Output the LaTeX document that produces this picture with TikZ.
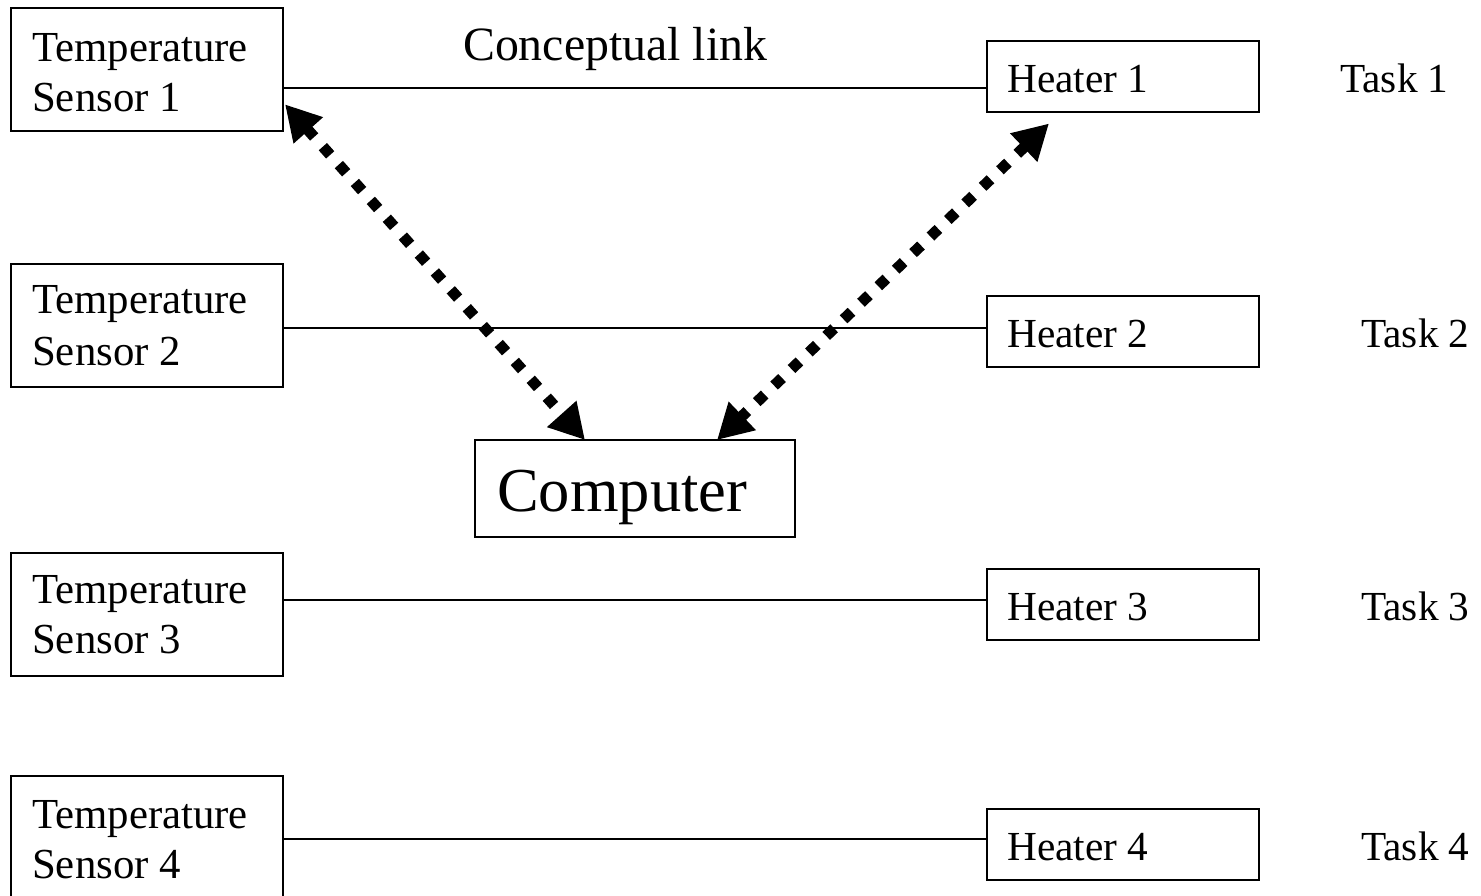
\documentclass[tikz,border=0pt]{standalone}
\usepackage{fontspec}
\setmainfont{Liberation Serif}
\usetikzlibrary{arrows.meta,calc}
\begin{document}
\begin{tikzpicture}[x=1pt,y=-1pt,
  box/.style={draw, line width=2pt, inner sep=0pt, outer sep=0pt, anchor=north west},
  sbox/.style={box, minimum width=272pt, minimum height=123pt},
  hbox/.style={box, minimum width=272pt, minimum height=71pt},
  txt/.style={anchor=base west, inner sep=0pt, font=\fontsize{42.8}{51}\selectfont},
  htxt/.style={anchor=base west, inner sep=0pt, font=\fontsize{41.3}{49}\selectfont},
  conn/.style={line width=2pt},
  darrow/.style={line width=11pt, dash pattern=on 11pt off 13pt,
    {Triangle[length=35pt,width=37pt]}-{Triangle[length=35pt,width=37pt]}}]
\useasboundingbox (0,0) rectangle (1481,895);
% sensor boxes
\node[sbox] (ts1) at (11,8.3) {};
\node[sbox] (ts2) at (11,263.5) {};
\node[sbox] (ts3) at (11,552.5) {};
\node[box, minimum width=272pt, minimum height=140pt] (ts4) at (11,775.7) {};
\node[txt] (ts1a) at (32,61) {Temperature};
\node[txt] (ts1b) at (32,111.7) {Sensor 1};
\node[txt] (ts2a) at (32,313.3) {Temperature};
\node[txt] (ts2b) at (32,365) {Sensor 2};
\node[txt] (ts3a) at (32,603.3) {Temperature};
\node[txt] (ts3b) at (32,653.3) {Sensor 3};
\node[txt] (ts4a) at (32,828.3) {Temperature};
\node[txt] (ts4b) at (32,878.3) {Sensor 4};
% heater boxes
\node[hbox] (h1) at (987,40.5) {};
\node[hbox] (h2) at (987,296) {};
\node[hbox] (h3) at (987,568.5) {};
\node[hbox] (h4) at (987,809) {};
\node[htxt] (h1t) at (1007,92.5) {Heater 1};
\node[htxt] (h2t) at (1007,347.5) {Heater 2};
\node[htxt] (h3t) at (1007,620.5) {Heater 3};
\node[htxt] (h4t) at (1007,860.5) {Heater 4};
% tasks
\node[htxt] (t1) at (1340,92.5) {Task 1};
\node[htxt] (t2) at (1361,347.5) {Task 2};
\node[htxt] (t3) at (1361,620.5) {Task 3};
\node[htxt] (t4) at (1361,860.5) {Task 4};
% computer
\node[box, minimum width=320pt, minimum height=97pt] (comp) at (475,440) {};
\node[anchor=base west, inner sep=0pt, font=\fontsize{62.5}{75}\selectfont] (compt) at (497,511.7) {Computer};
% conceptual link label
\node[anchor=base west, inner sep=0pt, font=\fontsize{47.8}{57}\selectfont] (cl) at (463,60) {Conceptual link};
% conceptual links
\coordinate (r1) at (0,88.3);
\coordinate (r2) at (0,327.7);
\coordinate (r3) at (0,600);
\coordinate (r4) at (0,839.3);
\draw[conn] (ts1.east |- r1) -- (h1.west |- r1);
\draw[conn] (ts2.east |- r2) -- (h2.west |- r2);
\draw[conn] (ts3.east |- r3) -- (h3.west |- r3);
\draw[conn] (ts4.east |- r4) -- (h4.west |- r4);
% communication arrows
\draw[darrow] ($(ts1.north east)+(2,96)$) -- ($(comp.north west)+(110,0)$);
\draw[darrow] ($(h1.south west)+(62,12)$) -- ($(comp.north west)+(242,0)$);
\end{tikzpicture}
\end{document}
